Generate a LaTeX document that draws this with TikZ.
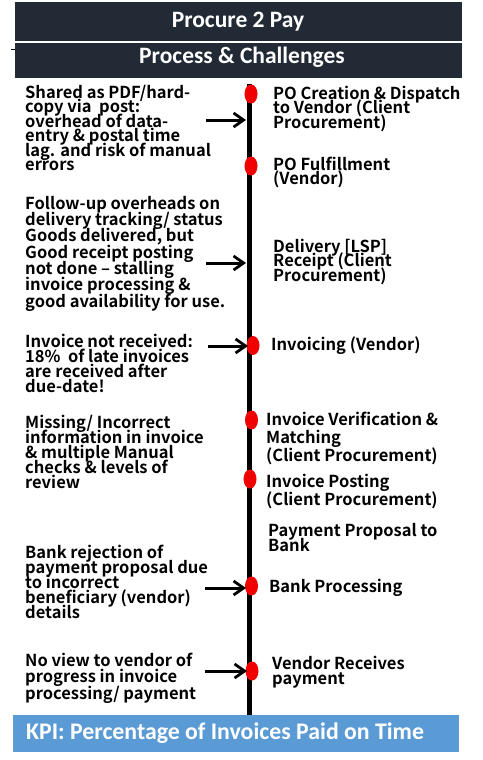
\documentclass[tikz,border=0pt]{standalone}
\usepackage{fontspec}
\setmainfont{Noto Sans CJK JP}[BoldFont={* Bold}]
\newfontfamily\headfont{Carlito}
\usetikzlibrary{arrows.meta,shapes.geometric}
\definecolor{headbg}{HTML}{222A35}
\definecolor{kpibg}{HTML}{5B9BD5}
\definecolor{dotred}{HTML}{F00000}
\newcommand\tightlines{\lineskiplimit=-30pt\lineskip=0pt}
\newcommand\bodyf{\fontsize{16.5}{14.4}\selectfont\bfseries\tightlines}
\newcommand\bodyg{\fontsize{16.5}{18}\selectfont\bfseries\tightlines}
\newcommand\bodyh{\fontsize{16.5}{16.3}\selectfont\bfseries\tightlines}
\newcommand\bodyk{\fontsize{16.5}{15}\selectfont\bfseries\tightlines}
\begin{document}
\begin{tikzpicture}[x=1pt,y=-1pt,
  challenge/.style={anchor=north west,inner sep=0pt,align=left,font=\bodyf},
  stagetxt/.style={anchor=north west,inner sep=0pt,align=left,font=\bodyf},
  reddot/.style={ellipse,fill=dotred,draw=none,minimum width=13pt,minimum height=19pt,inner sep=0pt},
  flowarrow/.style={line width=3pt,-{Straight Barb[length=10pt,width=14pt,line width=2.8pt]}},
  headtxt/.style={text=white,font=\headfont\bfseries\fontsize{23.5}{26}\selectfont}]
\useasboundingbox (0,0) rectangle (482,760);
% header
\fill[headbg] (15,2) rectangle (462,78);
\draw[white,line width=1.2pt] (15,42) -- (462,42);
\draw[black,line width=1pt] (11,50) -- (15,50);
\node[headtxt] (title) at (238,22) {Procure 2 Pay};
\node[headtxt] (subtitle) at (242,57) {Process \& Challenges};
% timeline
\coordinate (ltop) at (249,84);
\coordinate (lbot) at (249,715);
\draw[line width=5pt] (ltop) -- (lbot);
% dots
\node[reddot] (d1) at (251,94) {};
\node[reddot] (d2) at (251,166) {};
\node[reddot] (d3) at (253,345.5) {};
\node[reddot] (d4) at (251.5,420) {};
\node[reddot] (d5) at (250,479) {};
\node[reddot] (d6) at (251.5,586) {};
\node[reddot] (d7) at (252,671) {};
% stage texts
\node[stagetxt] (s1) at (273,86) {PO Creation \& Dispatch\\to Vendor (Client\\Procurement)};
\node[stagetxt] (s2) at (273,157) {PO Fulfillment\\(Vendor)};
\node[stagetxt] (s3) at (273,239) {Delivery [LSP]\\Receipt (Client\\Procurement)};
\node[stagetxt] (s4) at (271,337) {Invoicing (Vendor)};
\node[stagetxt,font=\bodyg] (s5) at (266,412) {Invoice Verification \&\\Matching\\(Client Procurement)};
\node[stagetxt,font=\bodyg] (s6) at (266,474) {Invoice Posting\\(Client Procurement)};
\node[stagetxt,font=\bodyk] (s7) at (268,523) {Payment Proposal to\\Bank};
\node[stagetxt] (s8) at (269,579) {Bank Processing};
\node[stagetxt,font=\bodyk] (s9) at (272,656) {Vendor Receives\\payment};
% challenge texts
\node[challenge] (c1) at (25,85) {Shared as PDF/hard-\\copy via\ \ post:\\overhead of data-\\entry \& postal time\\lag. and risk of manual\\errors};
\node[challenge,font=\bodyh] (c2) at (25,196) {Follow-up overheads on\\delivery tracking/ status\\Goods delivered, but\\Good receipt posting\\not done – stalling\\invoice processing \&\\good availability for use.};
\node[challenge,font=\bodyk] (c3) at (25,334) {Invoice not received:\\18\%\ \ of late invoices\\are received after\\due-date!};
\node[challenge,font=\bodyk] (c4) at (25,415) {Missing/ Incorrect\\information in invoice\\\& multiple Manual\\checks \& levels of\\review};
\node[challenge,font=\bodyk] (c5) at (25,545) {Bank rejection of\\payment proposal due\\to incorrect\\beneficiary (vendor)\\details};
\node[challenge,font=\bodyh] (c6) at (25,653) {No view to vendor of\\progress in invoice\\processing/ payment};
% arrows
\coordinate (a1s) at (206,120); \coordinate (a1e) at (246,120);
\coordinate (a2s) at (206,263); \coordinate (a2e) at (246,263);
\coordinate (a3s) at (208,346); \coordinate (a3e) at (248,346);
\coordinate (a4s) at (205,588); \coordinate (a4e) at (246,588);
\coordinate (a5s) at (205,671); \coordinate (a5e) at (247,671);
\draw[flowarrow] (a1s) -- (a1e);
\draw[flowarrow] (a2s) -- (a2e);
\draw[flowarrow] (a3s) -- (a3e);
\draw[flowarrow] (a4s) -- (a4e);
\draw[flowarrow] (a5s) -- (a5e);
% KPI
\fill[kpibg] (13,715) rectangle (459,752);
\node[anchor=west,inner sep=0pt,text=white,font=\headfont\bfseries\fontsize{23.8}{26}\selectfont] (kpi) at (26,733.5) {KPI: Percentage of Invoices Paid on Time};
\end{tikzpicture}
\end{document}
